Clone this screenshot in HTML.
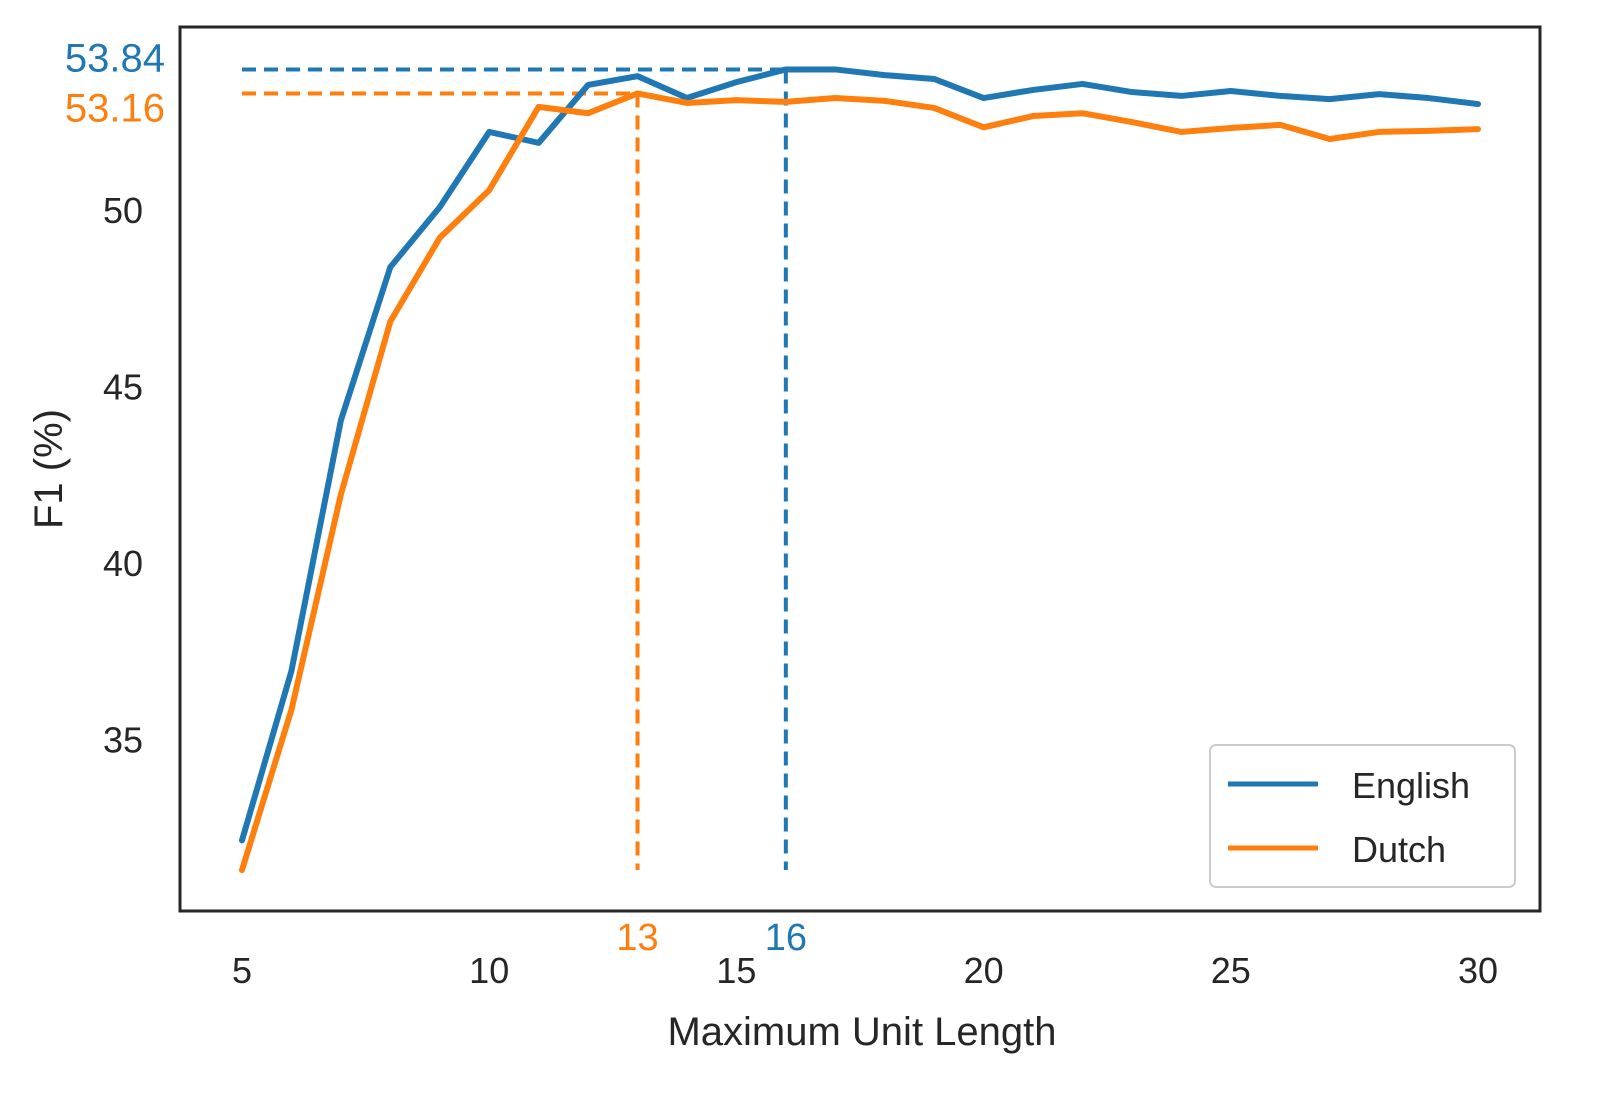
<!DOCTYPE html>
<html><head><meta charset="utf-8">
<style>
body{margin:0;background:#fff;}
svg{display:block;font-family:"Liberation Sans",sans-serif;}
</style></head>
<body>
<svg id="chart" width="1610" height="1111" viewBox="0 0 1610 1111">
<rect x="180" y="27" width="1360" height="884" fill="#fff" stroke="#262626" stroke-width="3"/>
<g id="marks"></g>
<text x="862" y="1045" font-size="40" fill="#262626" text-anchor="middle">Maximum Unit Length</text>
<text transform="translate(62,469) rotate(-90)" font-size="40" fill="#262626" text-anchor="middle">F1 (%)</text>
<g>
<rect x="1210" y="745" width="305" height="142" rx="6" fill="#fff" stroke="#ccc" stroke-width="2"/>
<line x1="1228" y1="784" x2="1318" y2="784" stroke="#1f77b4" stroke-width="5"/>
<text x="1352" y="798" font-size="36" fill="#262626">English</text>
<line x1="1228" y1="848" x2="1318" y2="848" stroke="#ff7f0e" stroke-width="5"/>
<text x="1352" y="862" font-size="36" fill="#262626">Dutch</text>
</g>
</svg>
<script>
const xValues=[5,6,7,8,9,10,11,12,13,14,15,16,17,18,19,20,21,22,23,24,25,26,27,28,29,30];
const english=[32.0,36.8,43.9,48.24,49.94,52.07,51.76,53.4,53.65,53.03,53.48,53.84,53.84,53.68,53.57,53.03,53.26,53.43,53.2,53.09,53.23,53.09,53.0,53.14,53.03,52.86];
const dutch=[31.16,35.7,41.8,46.7,49.07,50.42,52.78,52.6,53.16,52.89,52.97,52.92,53.03,52.95,52.75,52.2,52.52,52.6,52.35,52.07,52.18,52.27,51.87,52.07,52.1,52.15];
const xTicks=[5,10,15,20,25,30];
const yTicks=[35,40,45,50];
const NS="http://www.w3.org/2000/svg";
const X=v=>242+(v-5)*49.44;
const Y=v=>205-(v-50)*35.3;
const g=document.getElementById('marks');
function mk(tag,attrs){const e=document.createElementNS(NS,tag);for(const k in attrs)e.setAttribute(k,attrs[k]);g.appendChild(e);return e;}
xTicks.forEach(t=>{const e=mk('text',{x:X(t),y:983,'font-size':36,fill:'#262626','text-anchor':'middle'});e.textContent=t;

});
yTicks.forEach(t=>{const e=mk('text',{x:143,y:Y(t)+18,'font-size':36,fill:'#262626','text-anchor':'end'});e.textContent=t;

});
function best(arr,color,name,labelDy){
let bi=0;arr.forEach((v,i)=>{if(v>arr[bi])bi=i;});
const bx=X(xValues[bi]),by=Y(arr[bi]);
const h=mk('line',{x1:X(5),y1:by,x2:bx,y2:by,stroke:color,'stroke-width':4,'stroke-dasharray':'14,8'});


const v=mk('line',{x1:bx,y1:by,x2:bx,y2:870,stroke:color,'stroke-width':4,'stroke-dasharray':'14,8'});


const t1=mk('text',{x:165,y:by+labelDy,'font-size':40,fill:color,'text-anchor':'end'});t1.textContent=arr[bi].toFixed(2);


const t2=mk('text',{x:bx,y:950,'font-size':38,fill:color,'text-anchor':'middle'});t2.textContent=xValues[bi];


}
best(english,'#1f77b4','english',2);
best(dutch,'#ff7f0e','dutch',28);
function line(arr,color,name){
const p=mk('polyline',{points:arr.map((v,i)=>X(xValues[i])+','+Y(v)).join(' '),fill:'none',stroke:color,'stroke-width':6,'stroke-linejoin':'round','stroke-linecap':'round'});


}
line(english,'#1f77b4','english-line');
line(dutch,'#ff7f0e','dutch-line');
</script>
</body></html>
